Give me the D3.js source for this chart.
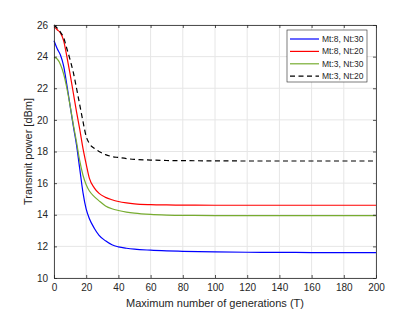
<!DOCTYPE html>
<html>
<head>
<meta charset="utf-8">
<script src="https://cdn.jsdelivr.net/npm/d3@7"></script>
<style>
  body { margin: 0; background: #fff; }
  svg { display: block; }
</style>
</head>
<body>
<div id="chart"></div>
<script>
// Generations sampled along the x axis
const gens = [0, 2, 4, 6, 8, 10, 12, 14, 16, 18, 20, 22, 25, 28, 32, 36, 40, 45, 50, 60, 70, 80, 100, 120, 140, 160, 180, 200];

// Transmit power [dBm]
const mt8nt30 = [25.0, 24.5, 24.1, 23.4, 22.2, 20.9, 19.6, 18.4, 16.9, 15.4, 14.35, 13.75, 13.15, 12.7, 12.35, 12.1, 11.97, 11.88, 11.82, 11.76, 11.72, 11.69, 11.65, 11.63, 11.62, 11.61, 11.6, 11.6];
const mt8nt20 = [25.9, 25.7, 25.5, 25.0, 24.0, 22.9, 21.7, 20.5, 19.4, 18.2, 17.2, 16.3, 15.7, 15.35, 15.1, 14.95, 14.84, 14.75, 14.69, 14.64, 14.62, 14.61, 14.6, 14.6, 14.6, 14.6, 14.6, 14.6];
const mt3nt30 = [23.95, 23.85, 23.5, 22.9, 22.0, 20.9, 19.7, 18.6, 17.4, 16.5, 15.9, 15.5, 15.15, 14.88, 14.56, 14.38, 14.27, 14.17, 14.1, 14.02, 13.98, 13.96, 13.95, 13.95, 13.95, 13.95, 13.95, 13.95];
const mt3nt20 = [26.0, 25.8, 25.55, 25.2, 24.5, 23.8, 23.0, 22.0, 20.95, 19.9, 18.95, 18.5, 18.2, 18.0, 17.8, 17.68, 17.62, 17.55, 17.5, 17.46, 17.43, 17.42, 17.41, 17.4, 17.4, 17.4, 17.4, 17.4];

const seriesNames = ["Mt:8, Nt:30", "Mt:8, Nt:20", "Mt:3, Nt:30", "Mt:3, Nt:20"];
const seriesValues = [mt8nt30, mt8nt20, mt3nt30, mt3nt20];
const seriesColors = ["#0000ff", "#ff0000", "#77ac30", "#000000"];
const seriesDash = [null, null, null, "5,3.5"];

const xTicks = [0, 20, 40, 60, 80, 100, 120, 140, 160, 180, 200];
const yTicks = [10, 12, 14, 16, 18, 20, 22, 24, 26];

const W = 415, H = 313;
const margin = { top: 25, right: 39, bottom: 35, left: 54 };
const iw = W - margin.left - margin.right;
const ih = H - margin.top - margin.bottom;

const svg = d3.select("#chart").append("svg")
  .attr("width", W).attr("height", H)
  .style("font-family", "'Liberation Sans', Arial, sans-serif");

const g = svg.append("g").attr("transform", `translate(${margin.left},${margin.top})`);

const x = d3.scaleLinear().domain([0, 200]).range([0, iw]);
const y = d3.scaleLinear().domain([10, 26]).range([ih, 0]);

// ---- grid ----
g.append("g").selectAll("line").data(xTicks).join("line")
  .attr("x1", d => x(d)).attr("x2", d => x(d))
  .attr("y1", 0).attr("y2", ih)
  .attr("stroke", "#e6e6e6").attr("stroke-width", 1);
g.append("g").selectAll("line").data(yTicks).join("line")
  .attr("x1", 0).attr("x2", iw)
  .attr("y1", d => y(d)).attr("y2", d => y(d))
  .attr("stroke", "#e6e6e6").attr("stroke-width", 1);

// ---- curves ----
const line = d3.line()
  .x((d, i) => x(gens[i]))
  .y(d => y(d))
  .curve(d3.curveMonotoneX);

seriesValues.forEach((vals, k) => {
  g.append("path")
    .datum(vals)
    .attr("d", line)
    .attr("fill", "none")
    .attr("stroke", seriesColors[k])
    .attr("stroke-width", 1.2)
    .attr("stroke-dasharray", seriesDash[k]);
});

// ---- axes (MATLAB style box, ticks inward) ----
const axisColor = "#262626";
const xAxis = g.append("g").attr("transform", `translate(0,${ih})`)
  .call(d3.axisBottom(x).tickValues(xTicks).tickSizeInner(-3).tickSizeOuter(0).tickPadding(6));
const yAxis = g.append("g")
  .call(d3.axisLeft(y).tickValues(yTicks).tickSizeInner(-3).tickSizeOuter(0).tickPadding(6));
const xTop = g.append("g")
  .call(d3.axisTop(x).tickValues(xTicks).tickSizeInner(-3).tickSizeOuter(0).tickFormat(""));
const yRight = g.append("g").attr("transform", `translate(${iw},0)`)
  .call(d3.axisRight(y).tickValues(yTicks).tickSizeInner(-3).tickSizeOuter(0).tickFormat(""));

[xAxis, yAxis, xTop, yRight].forEach(a => {
  a.select(".domain").attr("stroke", axisColor).attr("stroke-width", 0.8);
  a.selectAll(".tick line").attr("stroke", axisColor).attr("stroke-width", 0.8);
  a.selectAll(".tick text").attr("fill", axisColor).attr("font-size", 10);
});

// ---- axis labels ----
svg.append("text")
  .attr("x", margin.left + iw / 2).attr("y", H - 6)
  .attr("text-anchor", "middle")
  .attr("font-size", 11).attr("fill", axisColor)
  .text("Maximum number of generations (T)");

svg.append("text")
  .attr("transform", `translate(${margin.left - 22},${margin.top + ih / 2}) rotate(-90)`)
  .attr("text-anchor", "middle")
  .attr("font-size", 11).attr("fill", axisColor)
  .text("Transmit power [dBm]");

// ---- legend ----
const lg = svg.append("g").attr("transform", "translate(287,30)");
lg.append("rect")
  .attr("width", 80).attr("height", 52)
  .attr("fill", "#fff").attr("stroke", axisColor).attr("stroke-width", 0.6);

seriesNames.forEach((name, k) => {
  const ly = 9 + k * 12.4;
  lg.append("line")
    .attr("x1", 3).attr("x2", 32)
    .attr("y1", ly).attr("y2", ly)
    .attr("stroke", seriesColors[k]).attr("stroke-width", 1.2)
    .attr("stroke-dasharray", seriesDash[k]);
  lg.append("text")
    .attr("x", 35).attr("y", ly).attr("dy", "0.35em")
    .attr("font-size", 8.5).attr("fill", axisColor)
    .text(name);
});
</script>
</body>
</html>
